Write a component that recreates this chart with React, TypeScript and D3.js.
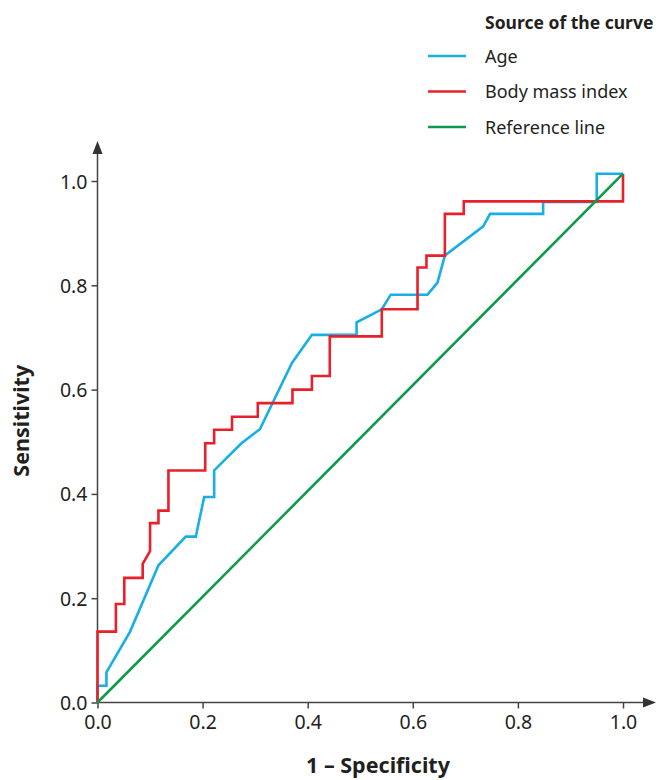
import React, { useEffect, useRef } from 'react';
import * as d3 from 'd3';

// tick values for both axes
const tickValues = [0, 0.2, 0.4, 0.6, 0.8, 1.0];

// Age curve vertices (1 - specificity, sensitivity)
const ageFpr = [0, 0, 0.017, 0.017, 0.062, 0.116, 0.168, 0.187, 0.203, 0.222, 0.222, 0.274, 0.309, 0.37, 0.408, 0.493, 0.493, 0.541, 0.558, 0.628, 0.647, 0.661, 0.734, 0.747, 0.848, 0.848, 0.95, 0.95, 1];
const ageSens = [0, 0.032, 0.032, 0.058, 0.136, 0.263, 0.318, 0.318, 0.394, 0.394, 0.445, 0.497, 0.524, 0.651, 0.705, 0.705, 0.729, 0.754, 0.782, 0.782, 0.805, 0.857, 0.913, 0.937, 0.937, 0.96, 0.96, 1.014, 1.014];

// Body mass index curve vertices
const bmiFpr = [0, 0, 0.035, 0.035, 0.051, 0.051, 0.086, 0.086, 0.1, 0.1, 0.116, 0.116, 0.135, 0.135, 0.205, 0.205, 0.222, 0.222, 0.256, 0.256, 0.305, 0.305, 0.371, 0.371, 0.408, 0.408, 0.442, 0.442, 0.541, 0.541, 0.609, 0.609, 0.626, 0.626, 0.661, 0.661, 0.697, 0.697, 1, 1];
const bmiSens = [0, 0.136, 0.136, 0.189, 0.189, 0.239, 0.239, 0.266, 0.29, 0.344, 0.344, 0.368, 0.368, 0.445, 0.445, 0.497, 0.497, 0.523, 0.523, 0.548, 0.548, 0.574, 0.574, 0.6, 0.6, 0.626, 0.626, 0.702, 0.702, 0.754, 0.754, 0.834, 0.834, 0.857, 0.857, 0.937, 0.937, 0.961, 0.961, 1.014];

// reference diagonal
const refFpr = [0, 1];
const refSens = [0, 1.014];

const seriesNames = ['Age', 'Body mass index', 'Reference line'];
const seriesColors = ['#18aee6', '#e8202a', '#0c9b4a'];

const FONT = '"Noto Sans", "Open Sans", sans-serif';
const INK = '#231f20';

const App = () => {
  const svgRef = useRef<SVGSVGElement | null>(null);

  useEffect(() => {
    if (!svgRef.current) return;
    const svg = d3.select(svgRef.current);
    svg.selectAll('*').remove();

    const xScale = d3.scaleLinear().domain([0, 1]).range([97.5, 623]);
    const yScale = d3.scaleLinear().domain([0, 1]).range([702.5, 181]);

    const line = d3.line<[number, number]>()
      .x(d => xScale(d[0]))
      .y(d => yScale(d[1]));

    const zip = (xs: number[], ys: number[]) => xs.map((x, i) => [x, ys[i]] as [number, number]);

    // Axes
    const xAxis = d3.axisBottom(xScale)
      .tickValues(tickValues)
      .tickSize(6)
      .tickSizeOuter(0)
      .tickPadding(7)
      .tickFormat(d3.format('.1f'));

    const yAxis = d3.axisLeft(yScale)
      .tickValues(tickValues)
      .tickSize(6)
      .tickSizeOuter(0)
      .tickPadding(4)
      .tickFormat(d3.format('.1f'));

    const gx = svg.append('g')
      .attr('transform', `translate(0,${yScale(0)})`)
      .call(xAxis);
    const gy = svg.append('g')
      .attr('transform', `translate(${xScale(0)},0)`)
      .call(yAxis);

    [gx, gy].forEach(g => {
      g.select('.domain').remove();
      g.selectAll('.tick line').attr('stroke', '#444').attr('stroke-width', 1.5);
      g.selectAll('.tick text')
        .attr('fill', INK)
        .attr('font-family', FONT)
        .attr('font-size', '19.5px');
    });
    gy.selectAll('.tick text').attr('dy', '0.36em');

    // axis lines with arrow heads
    const x0 = xScale(0);
    const y0 = yScale(0);
    const xEnd = 656;
    const yEnd = 141;
    svg.append('line')
      .attr('x1', x0).attr('x2', xEnd - 6)
      .attr('y1', y0).attr('y2', y0)
      .attr('stroke', '#444').attr('stroke-width', 1.5);
    svg.append('line')
      .attr('x1', x0).attr('x2', x0)
      .attr('y1', y0).attr('y2', yEnd + 6)
      .attr('stroke', '#444').attr('stroke-width', 1.5);
    svg.append('path')
      .attr('d', `M${xEnd},${y0} L${xEnd - 13},${y0 - 5} L${xEnd - 13},${y0 + 5} Z`)
      .attr('fill', '#333');
    svg.append('path')
      .attr('d', `M${x0},${yEnd} L${x0 - 5},${yEnd + 13} L${x0 + 5},${yEnd + 13} Z`)
      .attr('fill', '#333');

    // Curves
    const curves = [zip(ageFpr, ageSens), zip(bmiFpr, bmiSens), zip(refFpr, refSens)];
    curves.forEach((data, i) => {
      svg.append('path')
        .datum(data)
        .attr('fill', 'none')
        .attr('stroke', seriesColors[i])
        .attr('stroke-width', 2.6)
        .attr('stroke-linejoin', 'miter')
        .attr('d', line);
    });

    // Axis labels
    svg.append('text')
      .attr('x', 378)
      .attr('y', 773)
      .attr('text-anchor', 'middle')
      .attr('fill', INK)
      .attr('font-family', FONT)
      .attr('font-size', '21.5px')
      .attr('font-weight', 'bold')
      .text('1 \u2013 Specificity');

    svg.append('text')
      .attr('transform', `translate(29,${(yScale(0) + yScale(1)) / 2 - 21}) rotate(-90)`)
      .attr('text-anchor', 'middle')
      .attr('fill', INK)
      .attr('font-family', FONT)
      .attr('font-size', '21.5px')
      .attr('font-weight', 'bold')
      .text('Sensitivity');

    // Legend
    const legend = svg.append('g').attr('transform', 'translate(428,0)');
    legend.append('text')
      .attr('x', 57)
      .attr('y', 29)
      .attr('fill', INK)
      .attr('font-family', FONT)
      .attr('font-size', '17.5px')
      .attr('font-weight', 'bold')
      .text('Source of the curve');

    seriesNames.forEach((name, i) => {
      const row = legend.append('g').attr('transform', `translate(0,${56 + i * 35.5})`);
      row.append('line')
        .attr('x1', 0).attr('x2', 38)
        .attr('y1', 0).attr('y2', 0)
        .attr('stroke', seriesColors[i])
        .attr('stroke-width', 2.6);
      row.append('text')
        .attr('x', 57)
        .attr('y', 6.5)
        .attr('fill', INK)
        .attr('font-family', FONT)
        .attr('font-size', '18px')
        .text(name);
    });
  }, []);

  return (
    <svg
      ref={svgRef}
      width={660}
      height={780}
      style={{ position: 'absolute', left: 0, top: 0, background: '#fff', display: 'block' }}
    />
  );
};

export default App;
